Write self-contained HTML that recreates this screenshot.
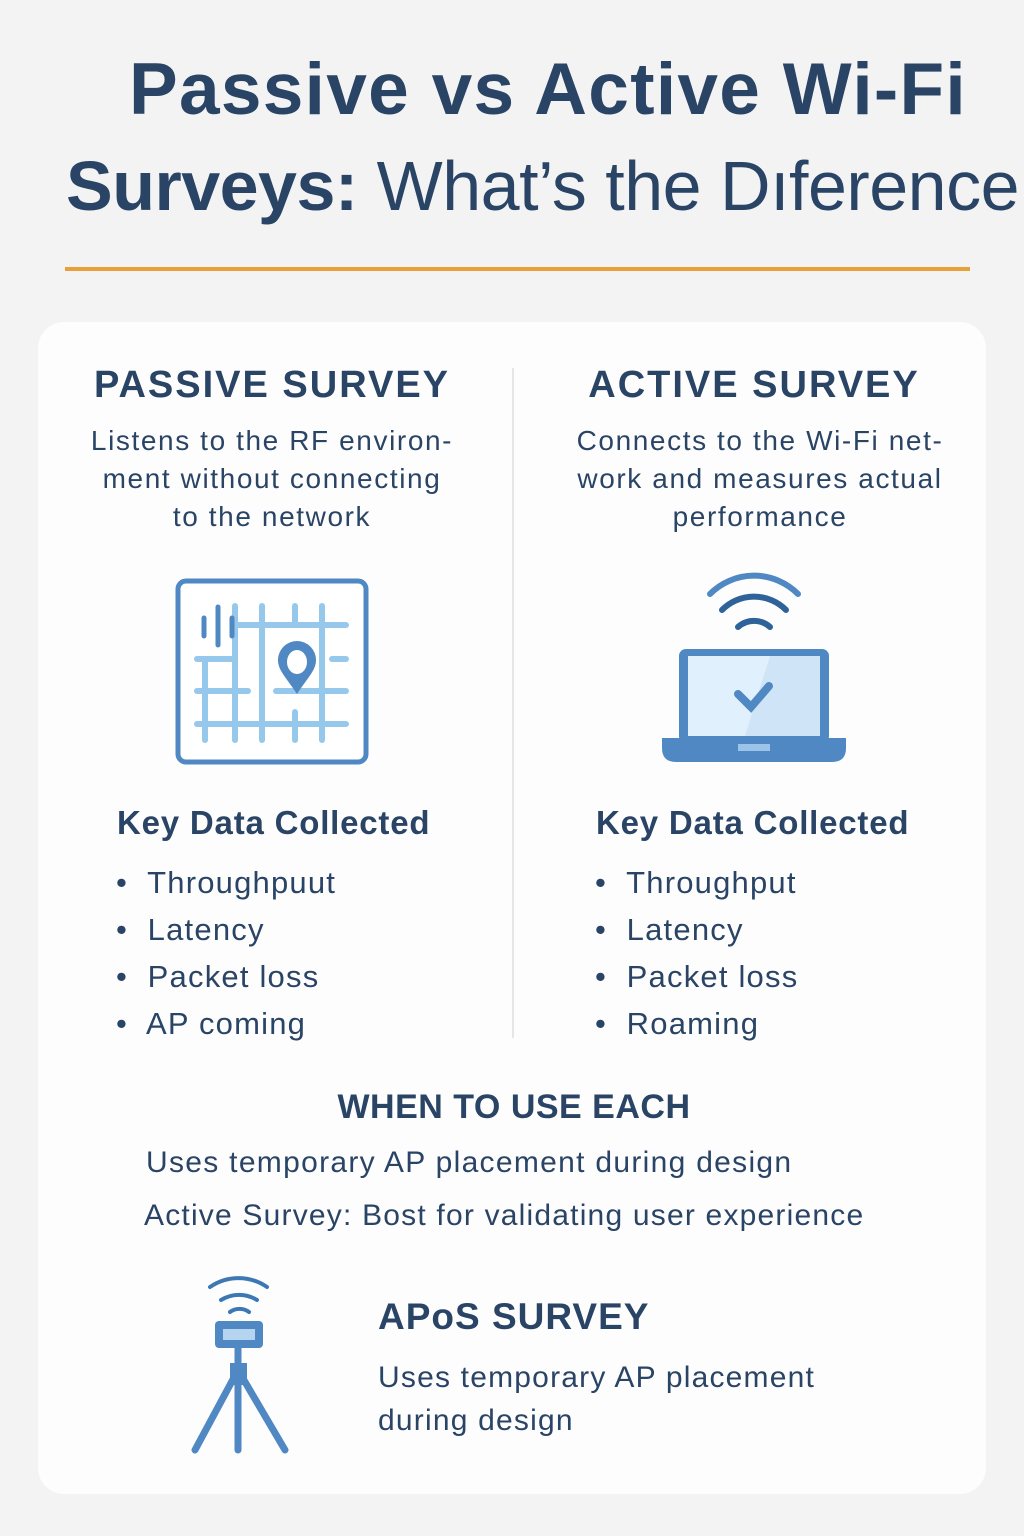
<!DOCTYPE html>
<html><head><meta charset="utf-8"><style>
body{margin:0;width:1024px;height:1536px;background:#f3f3f3;font-family:"Liberation Sans","DejaVu Sans",sans-serif;color:#2a4466;position:relative;overflow:hidden}
.a{position:absolute;white-space:nowrap}
.c{text-align:center}
.card{position:absolute;left:38px;top:322px;width:948px;height:1172px;background:#fdfdfd;border-radius:26px}
.h{font-weight:bold;font-size:38px;letter-spacing:2px}
.p{font-size:28px;line-height:38px;color:#2a4466;letter-spacing:1.6px}
.k{font-weight:bold;font-size:33px;letter-spacing:0.8px}
.li{font-size:31px;line-height:47px;letter-spacing:1.2px}
</style></head><body>
<div class="a c" style="left:0;width:1096px;top:48px;font-size:73px;font-weight:bold;letter-spacing:1.3px">Passive vs Active Wi-Fi</div>
<div class="a" style="left:66px;top:146px;font-size:70px;letter-spacing:-0.5px"><b>Surveys:</b> What’s the Dıference</div>
<div class="a" style="left:65px;top:267px;width:905px;height:4px;background:#e8a03a"></div>
<div class="card"></div>
<div class="a" style="left:512px;top:368px;width:2px;height:670px;background:#e6e6e6"></div>
<div class="a c h" style="left:22px;width:500px;top:364px">PASSIVE SURVEY</div>
<div class="a c p" style="left:22px;width:500px;top:422px">Listens to the RF environ-<br>ment without connecting<br>to the network</div>
<div class="a c h" style="left:504px;width:500px;top:364px">ACTIVE SURVEY</div>
<div class="a c p" style="left:510px;width:500px;top:422px">Connects to the Wi-Fi net-<br>work and measures actual<br>performance</div>
<svg class="a" style="left:0;top:0" width="1024" height="1536">
<g stroke-linecap="round" fill="none">
<rect x="178" y="581" width="188" height="181" rx="8" stroke="#4f88c2" stroke-width="5" fill="#fff"/>
<g stroke="#96c8ec" stroke-width="6">
<line x1="235" y1="606" x2="235" y2="740"/><line x1="262" y1="606" x2="262" y2="740"/><line x1="295" y1="606" x2="295" y2="622"/><line x1="295" y1="712" x2="295" y2="740"/><line x1="322" y1="606" x2="322" y2="740"/>
<line x1="235" y1="625" x2="346" y2="625"/><line x1="197" y1="659" x2="232" y2="659"/><line x1="332" y1="659" x2="346" y2="659"/><line x1="197" y1="691" x2="248" y2="691"/><line x1="276" y1="691" x2="346" y2="691"/><line x1="197" y1="724" x2="346" y2="724"/><line x1="205" y1="659" x2="205" y2="740"/>
</g>
<g stroke="#4f88c2" stroke-width="5"><line x1="204" y1="618" x2="204" y2="636"/><line x1="218" y1="607" x2="218" y2="645"/><line x1="232" y1="618" x2="232" y2="636"/></g>
<path d="M297 694 C285 676 278 670 278 660 A19 19 0 0 1 316 660 C316 670 309 676 297 694Z" fill="#4f88c2"/>
<ellipse cx="297" cy="662" rx="10" ry="12" fill="#fff"/>
<g stroke="#4f88c2" stroke-width="6"><path d="M710 594 A62 62 0 0 1 798 594"/></g>
<g stroke="#2e6298" stroke-width="6"><path d="M722 610 A45 45 0 0 1 786 610"/><path d="M738 627 A24 24 0 0 1 770 627"/></g>
<rect x="679" y="649" width="150" height="94" rx="7" fill="#4f88c2"/>
<rect x="688" y="656" width="132" height="80" fill="#cfe4f6"/>
<polygon points="688,656 770,656 745,736 688,736" fill="#e0f0fc"/>
<path d="M738 694 L751 707 L769 686" stroke="#4f88c2" stroke-width="8" fill="none"/>
<path d="M662 738 H846 V748 Q846 762 832 762 H676 Q662 762 662 748Z" fill="#4f88c2"/>
<rect x="738" y="744" width="32" height="7" fill="#9cc4e8"/>
<g stroke="#3c78b4" stroke-width="4"><path d="M210 1287 A50 50 0 0 1 267 1287"/><path d="M221 1300 A34 34 0 0 1 257 1300"/><path d="M230 1312 A16 16 0 0 1 249 1312"/></g>
<g stroke="#4f88c2" stroke-width="7"><line x1="238" y1="1370" x2="195" y2="1450"/><line x1="238" y1="1370" x2="238" y2="1450"/><line x1="238" y1="1370" x2="285" y2="1450"/><line x1="238" y1="1345" x2="238" y2="1370"/></g>
</g>
<rect x="230" y="1363" width="17" height="22" fill="#4f88c2"/>
<rect x="215" y="1321" width="48" height="27" rx="4" fill="#4f88c2"/>
<rect x="223" y="1329" width="32" height="11" fill="#b4d4f0"/>
</svg>
<div class="a k" style="left:117px;top:804px">Key Data Collected</div>
<div class="a li" style="left:116px;top:859px">•&nbsp; Throughpuut<br>•&nbsp; Latency<br>•&nbsp; Packet loss<br>•&nbsp; AP coming</div>
<div class="a k" style="left:596px;top:804px">Key Data Collected</div>
<div class="a li" style="left:595px;top:859px">•&nbsp; Throughput<br>•&nbsp; Latency<br>•&nbsp; Packet loss<br>•&nbsp; Roaming</div>
<div class="a c" style="left:264px;width:500px;top:1088px;font-weight:bold;font-size:34px;letter-spacing:0.5px">WHEN TO USE EACH</div>
<div class="a" style="left:146px;top:1146px;font-size:30px;letter-spacing:1.3px">Uses temporary AP placement during design</div>
<div class="a" style="left:144px;top:1199px;font-size:30px;letter-spacing:1.2px">Active Survey: Bost for validating user experience</div>
<div class="a h" style="left:378px;top:1296px;font-size:37px;letter-spacing:1px">APoS SURVEY</div>
<div class="a" style="left:378px;top:1356px;font-size:30px;line-height:43px;letter-spacing:1.2px">Uses temporary AP placement<br>during design</div>
</body></html>
